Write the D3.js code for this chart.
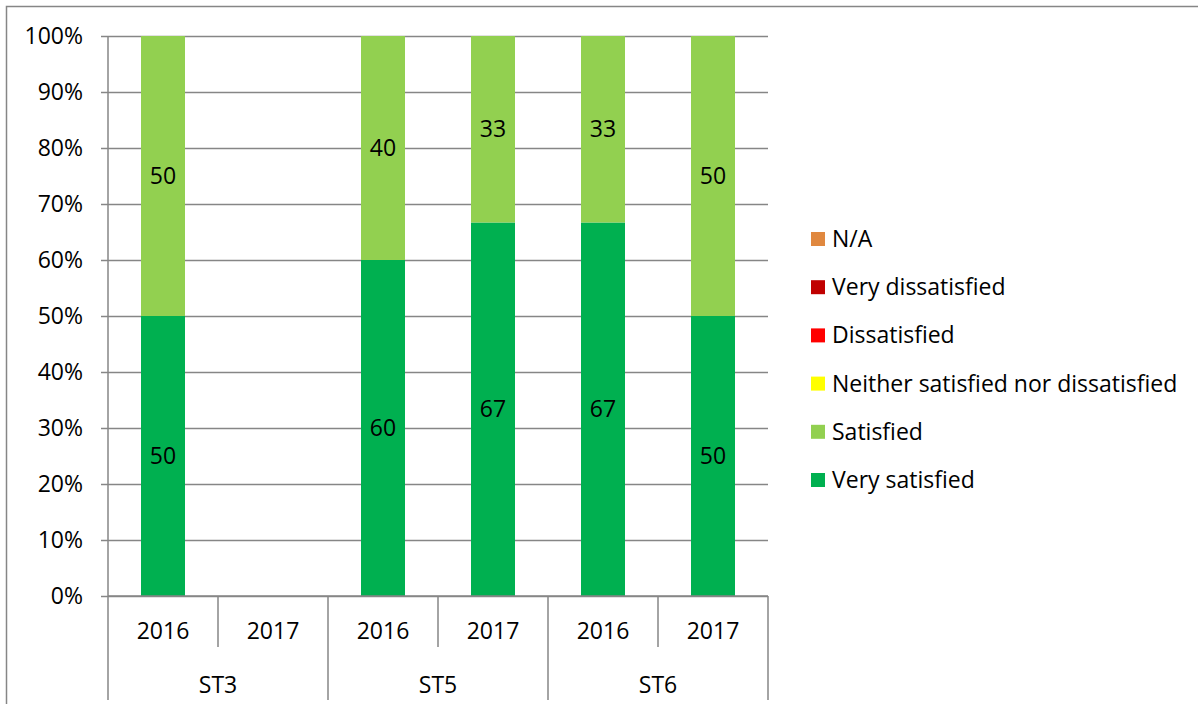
<!DOCTYPE html>
<html>
<head>
<meta charset="utf-8">
<script src="https://cdn.jsdelivr.net/npm/d3@7"></script>
<style>
  body { margin: 0; background: #fff; }
  text { font-family: "Open Sans", sans-serif; fill: #000; }
</style>
</head>
<body>
<div id="chart"></div>
<script>
// categories
let groups = ['ST3', 'ST5', 'ST6']
let years = ['2016', '2017']
let categories = ['ST3|2016', 'ST3|2017', 'ST5|2016', 'ST5|2017', 'ST6|2016', 'ST6|2017']

// series (percent of responses), stacked bottom -> top
let seriesNames = ['Very satisfied', 'Satisfied', 'Neither satisfied nor dissatisfied', 'Dissatisfied', 'Very dissatisfied', 'N/A']
let verySatisfied = [50, 0, 60, 66.7, 66.7, 50]
let satisfied = [50, 0, 40, 33.3, 33.3, 50]
let neither = [0, 0, 0, 0, 0, 0]
let dissatisfied = [0, 0, 0, 0, 0, 0]
let veryDissatisfied = [0, 0, 0, 0, 0, 0]
let na = [0, 0, 0, 0, 0, 0]
let yTicks = [0, 10, 20, 30, 40, 50, 60, 70, 80, 90, 100]

let colors = {
  'Very satisfied': '#00b050',
  'Satisfied': '#92d050',
  'Neither satisfied nor dissatisfied': '#ffff00',
  'Dissatisfied': '#ff0000',
  'Very dissatisfied': '#c00000',
  'N/A': '#e0883f'
}

let W = 1198
let H = 704
let margin = { top: 36, left: 108, right: 430, bottom: 108 }
let width = W - margin.left - margin.right
let height = H - margin.top - margin.bottom
let grey = '#868686'
let fs = '23px'

let rows = categories.map((c, i) => ({
  key: c,
  'Very satisfied': verySatisfied[i],
  'Satisfied': satisfied[i],
  'Neither satisfied nor dissatisfied': neither[i],
  'Dissatisfied': dissatisfied[i],
  'Very dissatisfied': veryDissatisfied[i],
  'N/A': na[i]
}))

let stacked = d3.stack().keys(seriesNames)(rows)

let svg = d3.select('#chart')
  .append('svg')
  .attr('width', W)
  .attr('height', H)

// outer frame
svg.append('rect')
  .attr('x', 6.5).attr('y', 6.5)
  .attr('width', W + 10).attr('height', H + 10)
  .attr('fill', 'none')
  .attr('stroke', grey)
  .attr('stroke-width', 1.5)

let g = svg.append('g')
  .attr('transform', 'translate(' + margin.left + ',' + margin.top + ')')

let x = d3.scaleBand()
  .domain(categories)
  .range([0, width])
  .paddingInner(0.6)
  .paddingOuter(0.3)

let y = d3.scaleLinear()
  .domain([0, 100])
  .range([height, 0])

// gridlines + y axis
let yAxis = d3.axisLeft(y)
  .tickValues(yTicks)
  .tickSize(-width)
  .tickPadding(25)
  .tickFormat(d => d + '%')

let ya = g.append('g').call(yAxis)
ya.select('.domain').remove()
ya.selectAll('.tick line')
  .attr('x1', -7)
  .attr('stroke', grey)
  .attr('stroke-width', 1.5)
ya.selectAll('.tick text')
  .style('font-size', fs)
  .style('font-family', '"Open Sans", sans-serif')
  .attr('fill', '#000')

g.append('line')
  .attr('x1', 0).attr('x2', 0)
  .attr('y1', 0).attr('y2', height)
  .attr('stroke', grey).attr('stroke-width', 1.5)

// bars
let layers = g.selectAll('.layer')
  .data(stacked)
  .enter()
  .append('g')
  .attr('class', 'layer')
  .attr('fill', d => colors[d.key])

layers.selectAll('rect')
  .data(d => d.filter(s => s[1] - s[0] > 0))
  .enter()
  .append('rect')
  .attr('x', d => x(d.data.key))
  .attr('width', x.bandwidth())
  .attr('y', d => y(d[1]))
  .attr('height', d => y(d[0]) - y(d[1]))

layers.selectAll('text')
  .data(d => d.filter(s => s[1] - s[0] > 0))
  .enter()
  .append('text')
  .attr('x', d => x(d.data.key) + x.bandwidth() / 2)
  .attr('y', d => (y(d[0]) + y(d[1])) / 2)
  .attr('dy', '0.35em')
  .attr('text-anchor', 'middle')
  .style('font-size', fs)
  .text(d => d3.format('.0f')(d[1] - d[0]))

// x axis (baseline)
g.append('line')
  .attr('x1', 0).attr('x2', width)
  .attr('y1', height).attr('y2', height)
  .attr('stroke', grey).attr('stroke-width', 1.5)

// two-level category axis
let step = x.step()
let groupWidth = step * years.length

// year separators (short)
groups.forEach((grp, gi) => {
  let gx = gi * groupWidth
  g.append('line')
    .attr('x1', gx + step).attr('x2', gx + step)
    .attr('y1', height).attr('y2', height + 51)
    .attr('stroke', grey).attr('stroke-width', 1.5)
})

// group separators (long)
d3.range(groups.length + 1).forEach(i => {
  g.append('line')
    .attr('x1', i * groupWidth).attr('x2', i * groupWidth)
    .attr('y1', height).attr('y2', height + 104)
    .attr('stroke', grey).attr('stroke-width', 1.5)
})

g.selectAll('.year-label')
  .data(categories)
  .enter()
  .append('text')
  .attr('class', 'year-label')
  .attr('x', d => x(d) + x.bandwidth() / 2)
  .attr('y', height + 35)
  .attr('dy', '0.35em')
  .attr('text-anchor', 'middle')
  .style('font-size', fs)
  .text(d => d.split('|')[1])

g.selectAll('.group-label')
  .data(groups)
  .enter()
  .append('text')
  .attr('class', 'group-label')
  .attr('x', (d, i) => i * groupWidth + groupWidth / 2)
  .attr('y', height + 89)
  .attr('dy', '0.35em')
  .attr('text-anchor', 'middle')
  .style('font-size', fs)
  .text(d => d)

// legend, top item is N/A
let legendNames = seriesNames.slice().reverse()
let legend = svg.append('g')
  .attr('transform', 'translate(811, 239)')

let item = legend.selectAll('.item')
  .data(legendNames)
  .enter()
  .append('g')
  .attr('class', 'item')
  .attr('transform', (d, i) => 'translate(0,' + i * 48.2 + ')')

item.append('rect')
  .attr('x', 0).attr('y', -7)
  .attr('width', 14).attr('height', 14)
  .attr('fill', d => colors[d])

item.append('text')
  .attr('x', 21)
  .attr('dy', '0.35em')
  .style('font-size', fs)
  .text(d => d)
</script>
</body>
</html>
